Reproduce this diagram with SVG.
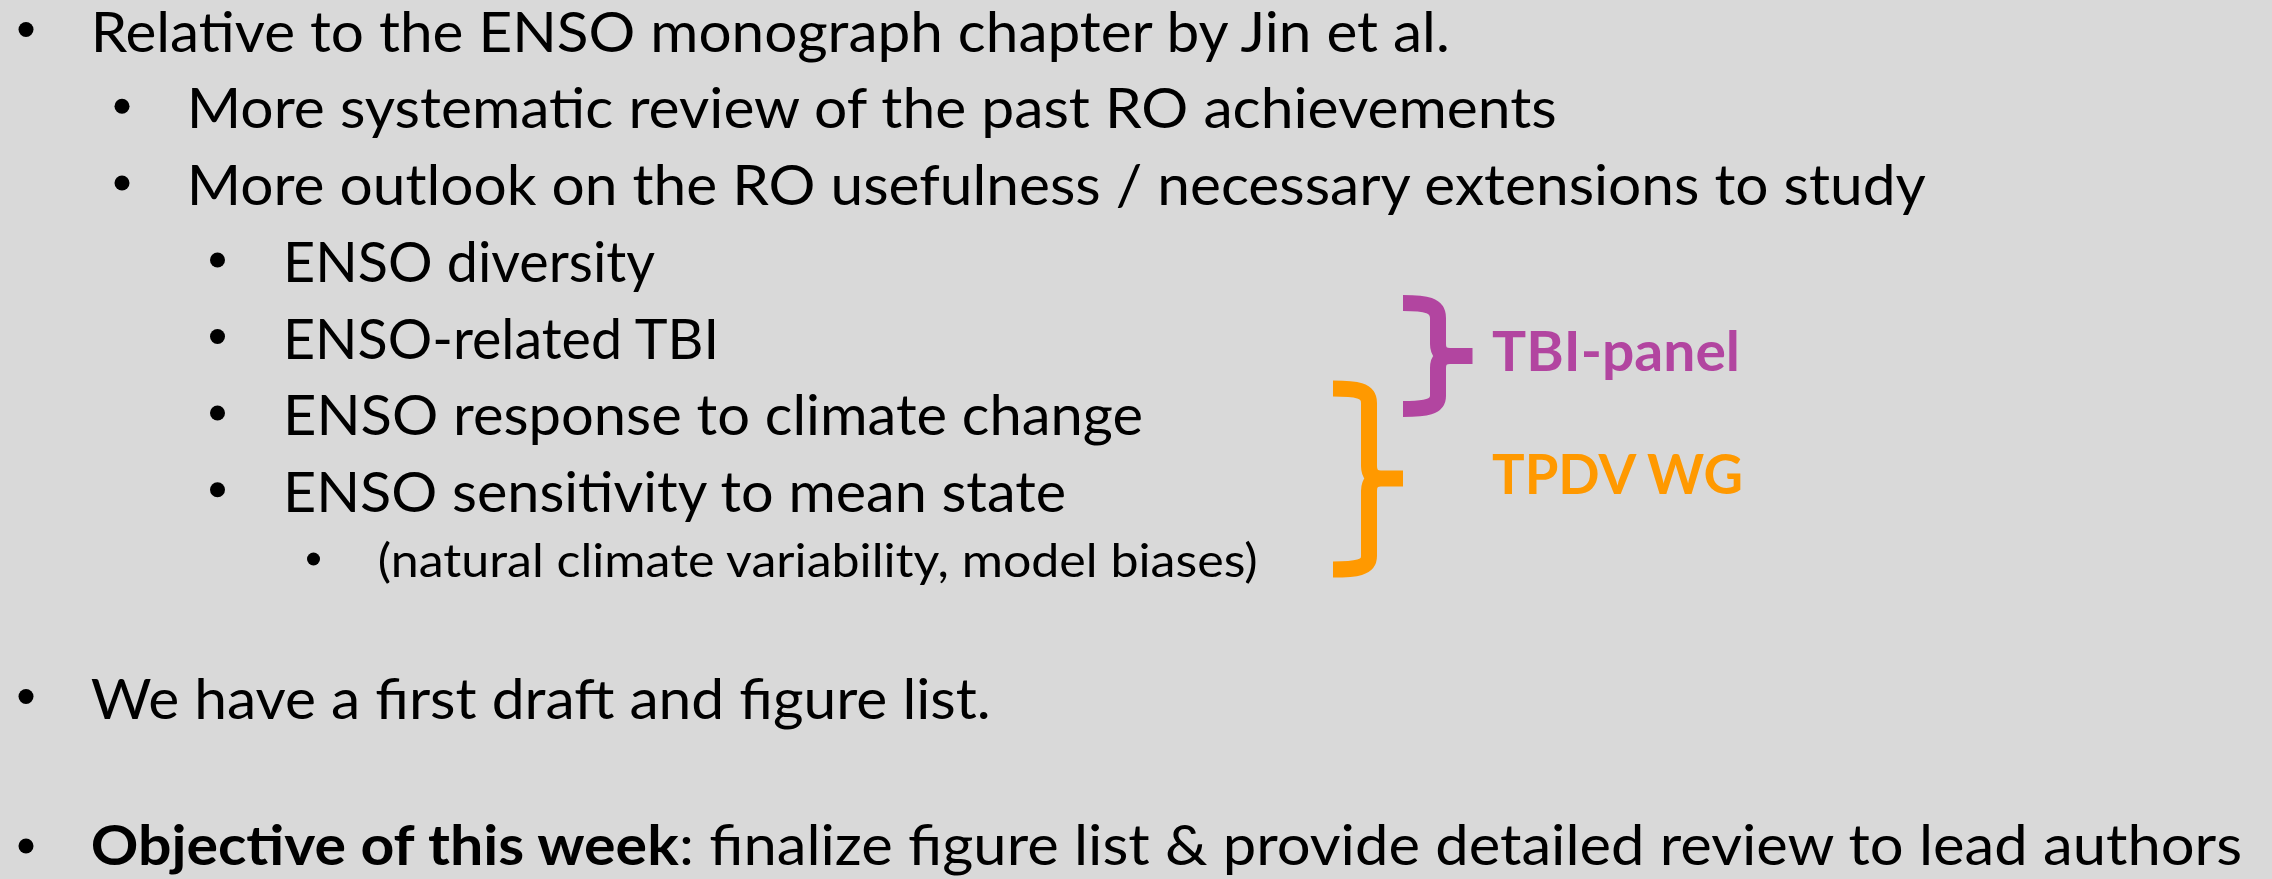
<svg xmlns="http://www.w3.org/2000/svg" width="2272" height="879" viewBox="0 0 2272 879">
<style>
.t{font-family:Lato,"Liberation Sans",sans-serif;font-size:56px;fill:#000}
.s{font-size:47px}
.b{font-family:Lato,"Liberation Sans",sans-serif;font-weight:bold;font-size:56px}
.bl{fill:#000}
.brace{fill:none;stroke-width:16;stroke-linejoin:round}
.lab{font-family:Lato,"Liberation Sans",sans-serif;font-size:56px;font-weight:bold}
</style>
<rect x="0" y="0" width="2272" height="879" fill="#D9D9D9"/>
<g id="bullets">
<circle class="bl" cx="26" cy="29.5" r="7.5"/>
<circle class="bl" cx="122" cy="106.3" r="7.5"/>
<circle class="bl" cx="122" cy="183" r="7.5"/>
<circle class="bl" cx="217.5" cy="260" r="7.5"/>
<circle class="bl" cx="217.5" cy="336.5" r="7.5"/>
<circle class="bl" cx="217.5" cy="413" r="7.5"/>
<circle class="bl" cx="217.5" cy="489.7" r="7.5"/>
<circle class="bl" cx="313.5" cy="559" r="6.5"/>
<circle class="bl" cx="26" cy="696.5" r="7.5"/>
<circle class="bl" cx="26" cy="846" r="7.5"/>
</g>
<g id="text">
<text class="t" x="90.7" y="51.7" textLength="1359" lengthAdjust="spacingAndGlyphs">Relative to the ENSO monograph chapter by Jin et al.</text>
<text class="t" x="186.7" y="128.3" textLength="1370" lengthAdjust="spacingAndGlyphs">More systematic review of the past RO achievements</text>
<text class="t" x="186.7" y="205" textLength="1739" lengthAdjust="spacingAndGlyphs">More outlook on the RO usefulness / necessary extensions to study</text>
<text class="t" x="283" y="282" textLength="372" lengthAdjust="spacingAndGlyphs">ENSO diversity</text>
<text class="t" x="283" y="358.5" textLength="436" lengthAdjust="spacingAndGlyphs">ENSO-related TBI</text>
<text class="t" x="283" y="435" textLength="860" lengthAdjust="spacingAndGlyphs">ENSO response to climate change</text>
<text class="t" x="283" y="511.7" textLength="783" lengthAdjust="spacingAndGlyphs">ENSO sensitivity to mean state</text>
<text class="t s" x="377.7" y="577" textLength="880" lengthAdjust="spacingAndGlyphs">(natural climate variability, model biases)</text>
<text class="t" x="90.7" y="718.5" textLength="900" lengthAdjust="spacingAndGlyphs">We have a first draft and figure list.</text>
<text class="b" x="90.7" y="865" textLength="588" lengthAdjust="spacingAndGlyphs">Objective of this week</text>
<text class="t" x="679" y="865" textLength="1563" lengthAdjust="spacingAndGlyphs">: finalize figure list &amp; provide detailed review to lead authors</text>
</g>
<g id="tbi-panel">
<path class="brace" stroke="#B245A0" d="M1403,303 C1426,303 1438,305 1438,318 L1438,344 Q1438,356 1450,356 L1472.5,356 M1450,356 Q1438,356 1438,368 L1438,396 C1438,407 1426,409 1403,409"/>
<text class="lab" fill="#B245A0" x="1492" y="371" textLength="248" lengthAdjust="spacingAndGlyphs">TBI-panel</text>
</g>
<g id="tpdv-wg">
<path class="brace" stroke="#FF9900" d="M1333,388.5 C1356,388.5 1369,390 1369,403 L1369,466 Q1369,478.5 1381,478.5 L1403,478.5 M1381,478.5 Q1369,478.5 1369,491 L1369,556 C1369,568 1356,569.5 1333,569.5"/>
<text class="lab" fill="#FF9900" x="1492" y="494" textLength="251" lengthAdjust="spacingAndGlyphs">TPDV WG</text>
</g>
</svg>
